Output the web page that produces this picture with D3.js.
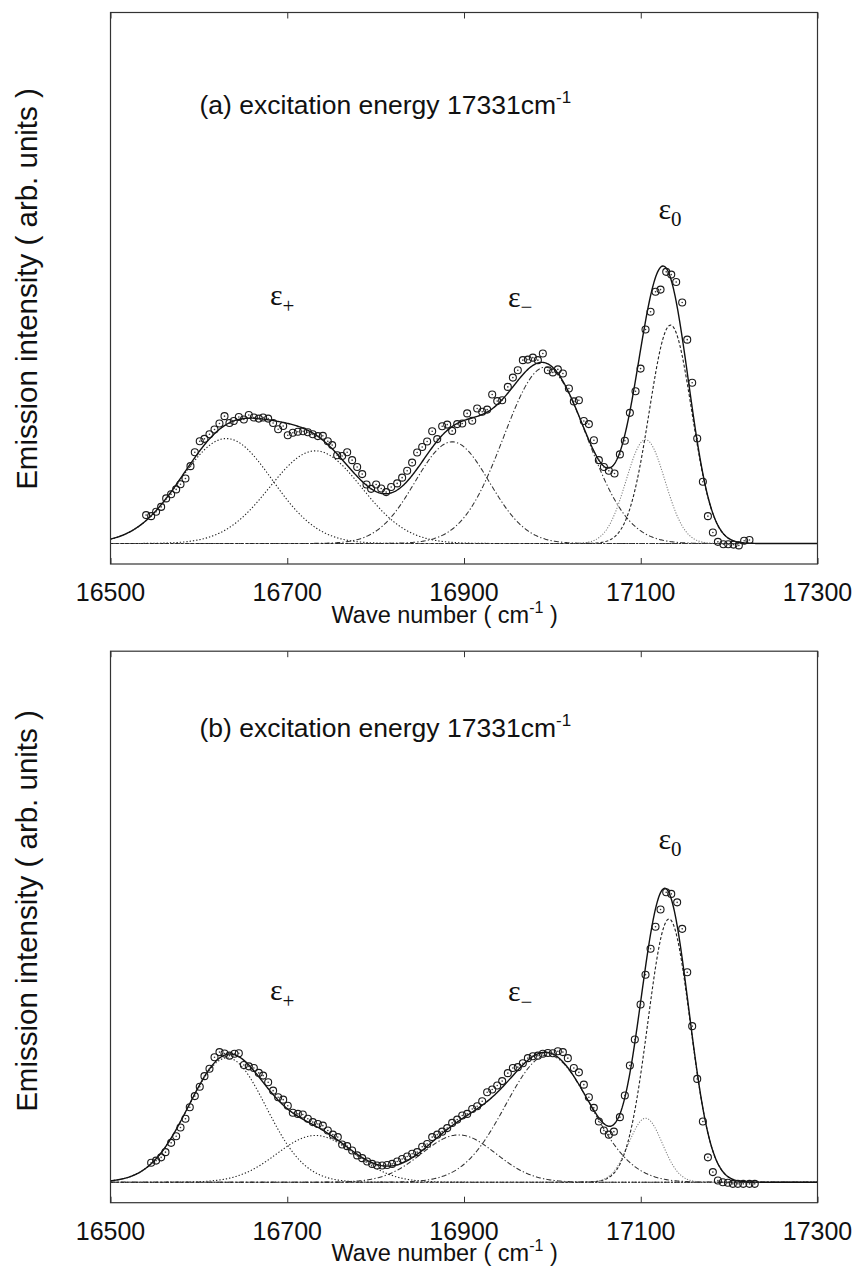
<!DOCTYPE html>
<html>
<head>
<meta charset="utf-8">
<script src="https://cdn.jsdelivr.net/npm/d3@7/dist/d3.min.js"></script>
<style>
  html, body { margin: 0; padding: 0; background: #fff; }
  svg { display: block; }
  .sans { font-family: "Liberation Sans", Arial, Helvetica, sans-serif; fill: #111; }
  .serif { font-family: "Liberation Serif", "Times New Roman", serif; fill: #111; }
</style>
</head>
<body>
<svg id="chart" width="858" height="1274"></svg>
<script>
// ---------------- data ----------------
const xTicks = [16500, 16700, 16900, 17100, 17300];
const xDomain = [16500, 17300];
const yDomain = [-7.5, 194.3];

// Panel (a): measured points
const aWave = [16540.3,16546,16551.6,16557.3,16563,16568.6,16574.3,16579.2,16584.8,16590.5,16595.4,16601,16606.3,16612,16617.7,16623.3,16629,16634.6,16639.5,16645.2,16650.9,16656.5,16662.2,16667.8,16672.7,16678.4,16684,16689.7,16695.4,16700.6,16706.3,16712,16718,16723.3,16728.9,16734.6,16740.3,16745.9,16750.8,16756.5,16762.1,16767.8,16773.4,16779.1,16784.8,16789.7,16794.9,16800.6,16806.3,16811.9,16817.6,16824.4,16830,16835.7,16841.3,16847,16852.7,16858.3,16864,16869.7,16875.3,16881,16886.6,16892.3,16898,16903.6,16909.3,16914.9,16920.6,16926.2,16931.9,16937.6,16943.2,16949.6,16955.3,16960.9,16966.6,16972.3,16977.9,16983.6,16989.2,16994.9,17000.5,17006.2,17011.9,17018.7,17024.3,17030,17035.6,17041.3,17047,17052.6,17058.3,17063.9,17070.3,17076.4,17082,17087.7,17094.1,17099.8,17105.4,17111.1,17116.7,17122.4,17128.8,17134.5,17140.1,17146.9,17152.6,17158.2,17163.9,17170.3,17176,17181.6,17187.3,17193.5,17199,17205,17211,17217,17223];
const aIntensity = [10.4,10.0,11.6,13.4,16.5,18.0,19.8,21.7,23.8,28.3,33.4,37.4,38.3,40.0,41.7,43.9,46.6,44.1,44.8,46.3,45.4,47.0,46.1,45.7,46.1,45.7,44.1,41.8,43.0,39.6,40.5,40.9,41.1,40.7,40.0,39.3,39.4,37.4,36.0,32.3,32.0,33.4,30.5,28.0,25.4,21.6,20.0,21.6,20.1,18.8,20.7,22.0,24.1,26.6,29.6,33.3,35.3,37.3,41.1,38.2,42.9,43.5,41.2,43.7,43.9,47.6,44.9,49.4,48.2,49.0,54.5,52.1,52.4,57.3,60.7,63.4,67.1,67.3,68.0,67.1,69.5,63.4,62.6,63.7,62.2,56.7,52.0,52.4,44.8,43.7,37.8,30.5,28.0,26.6,25.6,32.6,37.6,47.8,55.7,64.0,78.3,84.8,92.1,92.9,99.4,98.4,95.7,88.2,74.6,58.8,38.4,22.6,10.0,4.0,0.6,-0.3,-0.3,-0.4,-0.7,1.0,1.3];
// Panel (a): fitted gaussian components (read: centre, height, width)
const aCenters = [16631, 16732, 16886.6, 16992, 17105.4, 17133.7];
const aHeights = [38.4, 33.9, 37.2, 64.5, 38.0, 79.9];
const aWidths  = [52, 52, 42, 47, 22, 24];

// Panel (b): measured points
const bWave = [16546,16551.6,16557.3,16562.2,16568.6,16574.3,16579.2,16584.8,16589.7,16595.4,16601,16606.3,16612,16617.7,16623.3,16629,16634.6,16640.3,16645.2,16650.9,16656.5,16662.2,16667.8,16672.7,16678.4,16684,16689.7,16695.4,16700.6,16706.3,16712,16717.6,16723.3,16728.9,16734.6,16740.3,16745.9,16751.6,16757.2,16762.1,16767.8,16773.4,16779.1,16784.8,16790.4,16796.1,16801.7,16807.4,16813,16818.7,16824.4,16830,16835.7,16841.3,16847,16852.7,16858.3,16864,16869.7,16875.3,16881,16886.6,16892.3,16898,16903.6,16909.3,16914.9,16920.6,16926.2,16931.9,16937.6,16943.2,16949.6,16955.3,16960.9,16966.6,16972.3,16977.9,16983.6,16989.2,16994.9,17000.5,17006.2,17011.9,17017.5,17024.3,17030,17035.6,17041.3,17046.9,17052.6,17058.3,17063.9,17069.6,17076.4,17082,17087.7,17093.3,17099.8,17105.4,17111.1,17116.7,17122.4,17128.8,17134.5,17141.2,17146.9,17152.6,17158.2,17163.9,17170.3,17176,17181.6,17187.3,17192.9,17198.6,17204.2,17209.9,17216,17223,17229];
const bIntensity = [7.1,7.9,9.1,11.0,14.4,16.8,20.0,23.2,27.4,31.5,34.9,38.8,41.5,45.7,47.6,47.1,46.3,47.0,47.2,42.9,42.4,41.8,40.0,39.0,36.6,33.5,31.1,30.2,28.0,25.4,25.0,24.8,23.2,22.0,21.3,20.7,18.9,17.4,16.5,13.8,13.2,11.6,9.8,8.8,7.6,6.7,6.1,6.1,6.3,6.7,7.6,8.5,9.4,10.4,11.0,13.0,14.0,16.5,17.4,18.5,19.8,21.7,22.9,24.4,25.0,26.8,27.8,29.6,32.9,33.9,35.4,37.0,39.9,41.8,42.1,43.5,45.4,46.1,46.3,47.0,47.3,47.2,47.9,47.6,45.4,41.8,40.2,35.7,31.1,27.2,22.2,18.9,17.4,18.5,23.8,31.7,42.7,52.2,65.0,75.9,85.4,93.5,99.8,106.1,105.5,102.4,92.7,76.8,57.1,37.8,22.2,9.1,3.7,0.6,0,-0.2,-0.6,-0.6,-0.6,-0.6,-0.6];
const bCenters = [16632, 16732, 16894, 16995, 17105.4, 17132];
const bHeights = [45.5, 17.1, 17.3, 46.5, 23.4, 96.3];
const bWidths  = [44, 44, 42, 48, 19, 24];

const titles = ["(a) excitation energy 17331cm", "(b) excitation energy 17331cm"];
const peakNames = [["+", "\u2212", "0"], ["+", "\u2212", "0"]];

// ---------------- layout ----------------
const svg = d3.select("#chart");
const L = 110.5, R = 817.5;
const panels = [
  { top: 12.5, bottom: 564, wave: aWave, inten: aIntensity, c: aCenters, h: aHeights, w: aWidths,
    title: titles[0], titleY: 113.5, yLabelMid: 289,
    eps: [[270, 305], [508, 306.5], [658.5, 218.5]] },
  { top: 651.2, bottom: 1202.7, wave: bWave, inten: bIntensity, c: bCenters, h: bHeights, w: bWidths,
    title: titles[1], titleY: 737, yLabelMid: 911,
    eps: [[270, 1000], [508, 1001], [658.5, 848.8]] }
];

// style per component
const compStyle = [
  { dash: "1.3,2.0", color: "#222", width: 1.1 },
  { dash: "1.3,2.0", color: "#222", width: 1.1 },
  { dash: "5,2.2,1.3,2.2", color: "#333", width: 1.05 },
  { dash: "5,2.2,1.3,2.2", color: "#333", width: 1.05 },
  { dash: "1.1,1.6", color: "#777", width: 1.05 },
  { dash: "3,2", color: "#222", width: 1.1 }
];

const x = d3.scaleLinear().domain(xDomain).range([L, R]);
const grid = d3.range(xDomain[0], xDomain[1] + 0.5, 1);

panels.forEach((p, pi) => {
  const y = d3.scaleLinear().domain(yDomain).range([p.bottom, p.top]);
  const g = svg.append("g");

  const comp = (k, v) => p.h[k] * Math.exp(-((v - p.c[k]) ** 2) / (2 * p.w[k] ** 2));
  const line = d3.line().x(d => x(d[0])).y(d => y(d[1]));

  // components
  p.c.forEach((_, k) => {
    const pts = grid.map(v => [v, comp(k, v)]);
    g.append("path").attr("d", line(pts)).attr("fill", "none")
      .attr("stroke", compStyle[k].color).attr("stroke-width", compStyle[k].width)
      .attr("stroke-dasharray", compStyle[k].dash);
  });
  // total fit
  const fit = grid.map(v => [v, d3.sum(p.c, (_, k) => comp(k, v))]);
  g.append("path").attr("d", line(fit)).attr("fill", "none")
    .attr("stroke", "#111").attr("stroke-width", 1.4);

  // data points
  const pts = p.wave.map((v, i) => [v, p.inten[i]]);
  g.selectAll("circle.pt").data(pts).join("circle").attr("class", "pt")
    .attr("cx", d => x(d[0])).attr("cy", d => y(d[1])).attr("r", 3.5)
    .attr("fill", "none").attr("stroke", "#1a1a1a").attr("stroke-width", 1.1);
  g.selectAll("circle.dot").data(pts).join("circle").attr("class", "dot")
    .attr("cx", d => x(d[0])).attr("cy", d => y(d[1])).attr("r", 0.8)
    .attr("fill", "#333");

  // axes frame
  g.append("rect").attr("x", L).attr("y", p.top).attr("width", R - L).attr("height", p.bottom - p.top)
    .attr("fill", "none").attr("stroke", "#333").attr("stroke-width", 1.2);
  const axB = d3.axisBottom(x).tickValues(xTicks).tickSize(-6).tickFormat("");
  const axT = d3.axisTop(x).tickValues(xTicks).tickSize(-6).tickFormat("");
  const gb = g.append("g").attr("transform", `translate(0,${p.bottom})`).call(axB);
  const gt = g.append("g").attr("transform", `translate(0,${p.top})`).call(axT);
  [gb, gt].forEach(a => { a.select(".domain").remove(); a.selectAll("line").attr("stroke", "#333").attr("stroke-width", 1); });

  // tick labels
  g.selectAll("text.tl").data(xTicks).join("text").attr("class", "tl sans")
    .attr("x", d => x(d)).attr("y", p.bottom + 37).attr("text-anchor", "middle")
    .attr("font-size", 25).text(d => d);

  // x title
  const xt = g.append("text").attr("class", "sans").attr("x", 331.5).attr("y", p.bottom + 58.5)
    .attr("font-size", 23.5);
  xt.append("tspan").text("Wave number ( cm");
  xt.append("tspan").attr("font-size", 16).attr("dy", -10).text("-1");
  xt.append("tspan").attr("dy", 10).text(" )");

  // y title
  g.append("text").attr("class", "sans").attr("font-size", 29.5)
    .attr("transform", `translate(37,${p.yLabelMid}) rotate(-90)`)
    .attr("text-anchor", "middle").text("Emission intensity ( arb. units )");

  // panel title
  const tt = g.append("text").attr("class", "sans").attr("x", 199.5).attr("y", p.titleY).attr("font-size", 26.5);
  tt.append("tspan").text(p.title);
  tt.append("tspan").attr("font-size", 17).attr("dy", -11).text("-1");

  // peak labels
  p.eps.forEach((e, k) => {
    const t = g.append("text").attr("class", "serif").attr("x", e[0]).attr("y", e[1]).attr("font-size", 30);
    t.append("tspan").text("\u03b5");
    t.append("tspan").attr("font-size", 21).attr("dy", 7.5).text(peakNames[pi][k]);
  });
});
</script>
</body>
</html>
